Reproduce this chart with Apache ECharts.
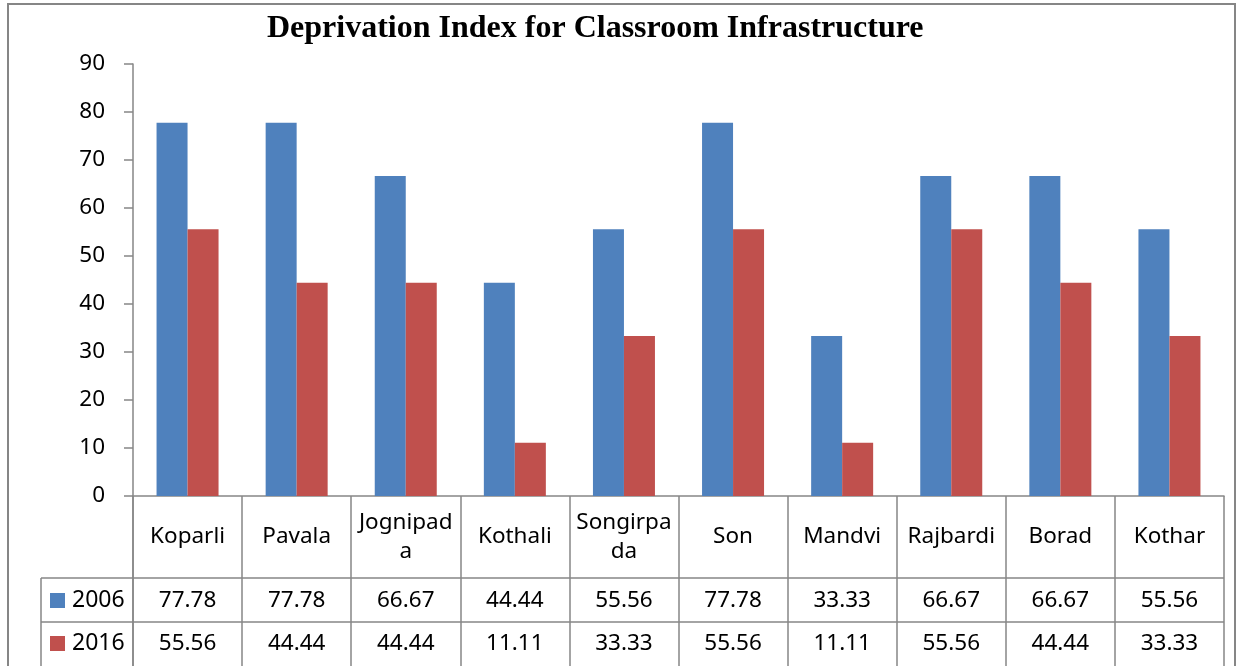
<!DOCTYPE html>
<html>
<head>
<meta charset="utf-8">
<script src="https://cdn.jsdelivr.net/npm/echarts@6/dist/echarts.min.js"></script>
<style>html,body{margin:0;padding:0;background:#fff}#c{width:1238px;height:666px}</style>
</head>
<body>
<div id="c"></div>
<script>
const title = "Deprivation Index for Classroom Infrastructure";
const categories = ["Koparli","Pavala","Jognipada","Kothali","Songirpada","Son","Mandvi","Rajbardi","Borad","Kothar"];
const categoryLabels = ["Koparli","Pavala","Jognipad\na","Kothali","Songirpa\nda","Son","Mandvi","Rajbardi","Borad","Kothar"];
const seriesNames = ["2006","2016"];
const values2006 = [77.78,77.78,66.67,44.44,55.56,77.78,33.33,66.67,66.67,55.56];
const values2016 = [55.56,44.44,44.44,11.11,33.33,55.56,11.11,55.56,44.44,33.33];
const yTicks = {min:0, max:90, interval:10};

const FONT = "Noto Sans";
const FS = 22.5;
const GRAY = "#868686";
const gridL = 133, gridR = 14, gridT = 64, gridB = 170;
const W = 1238, H = 666;
const axisY = H - gridB;         // 496
const row1 = 578, row2 = 622, tableRight = W - gridR, legendLeft = 41;

const chart = echarts.init(document.getElementById('c'), null, {renderer:'canvas'});

function valueAxis(arr, margin){
  return {
    type:'category', gridIndex:0, data:categories, position:'bottom',
    axisLine:{show:false}, axisTick:{show:false},
    axisLabel:{interval:0, margin:margin, verticalAlign:'middle', fontFamily:FONT, fontSize:FS, color:'#000',
      formatter:(v,i)=>arr[i].toFixed(2)}
  };
}
function legendFor(name, top){
  return {orient:'horizontal', left:45, top:top, itemWidth:15, itemHeight:15, icon:'rect',
    data:[name], textStyle:{fontFamily:FONT, fontSize:23, color:'#000', padding:[0,0,0,2]}};
}

chart.setOption({
  animation:false,
  backgroundColor:'#fff',
  title:{text:title, left:262, top:8, textStyle:{fontFamily:'Liberation Serif', fontWeight:'bold', fontSize:32, color:'#000'}},
  legend:[legendFor(seriesNames[0], 584), legendFor(seriesNames[1], 627)],
  grid:{left:gridL, right:gridR, top:gridT, bottom:gridB, containLabel:false},
  xAxis:[
    {type:'category', data:categories, position:'bottom',
     axisLine:{lineStyle:{color:GRAY, width:1.5}},
     axisTick:{show:true, interval:0, length:H-axisY+20, lineStyle:{color:GRAY, width:1.5}},
     axisLabel:{interval:0, margin:41, verticalAlign:'middle', lineHeight:29, fontFamily:FONT, fontSize:FS, color:'#000',
       formatter:(v,i)=>categoryLabels[i]}},
    valueAxis(values2006, 105),
    valueAxis(values2016, 148)
  ],
  yAxis:{type:'value', min:yTicks.min, max:yTicks.max, interval:yTicks.interval,
    axisLine:{show:true, lineStyle:{color:GRAY, width:1.5}},
    axisTick:{show:true, length:9, lineStyle:{color:GRAY, width:1.5}},
    splitLine:{show:false},
    axisLabel:{margin:28, fontFamily:FONT, fontSize:FS, color:'#000'}},
  series:[
    {name:seriesNames[0], type:'bar', data:values2006, barWidth:31, barGap:'0%', itemStyle:{color:'#4F81BD'}},
    {name:seriesNames[1], type:'bar', data:values2016, barWidth:31, barGap:'0%', itemStyle:{color:'#C0504D'}}
  ],
  graphic:[
    {type:'rect', shape:{x:8, y:4, width:1227, height:700}, style:{fill:null, stroke:GRAY, lineWidth:2}, silent:true},
    {type:'line', shape:{x1:legendLeft, y1:row1, x2:tableRight, y2:row1}, style:{stroke:GRAY, lineWidth:1.5}},
    {type:'line', shape:{x1:legendLeft, y1:row2, x2:tableRight, y2:row2}, style:{stroke:GRAY, lineWidth:1.5}},
    {type:'line', shape:{x1:legendLeft, y1:row1, x2:legendLeft, y2:H+10}, style:{stroke:GRAY, lineWidth:1.5}},
    {type:'line', shape:{x1:gridL, y1:axisY, x2:gridL, y2:H+10}, style:{stroke:GRAY, lineWidth:1.5}}
  ]
});
</script>
</body>
</html>
